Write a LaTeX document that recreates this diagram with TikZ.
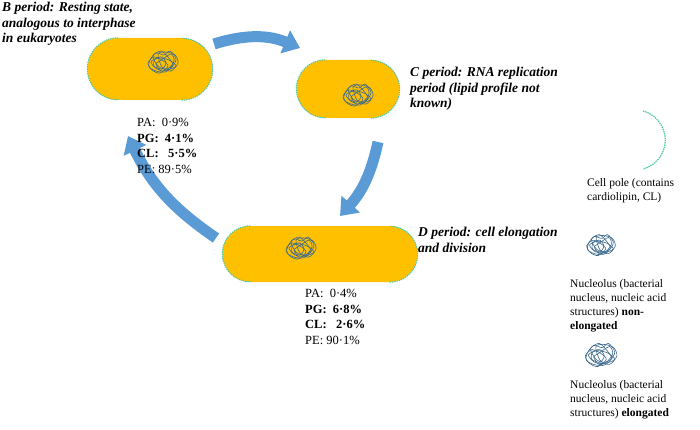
\documentclass[tikz,border=0pt]{standalone}
\usepackage{fontspec}
\setmainfont{Liberation Serif}
\usetikzlibrary{arrows.meta}
\definecolor{cellc}{HTML}{FFC000}
\definecolor{capc}{HTML}{4FC7A0}
\definecolor{arrc}{HTML}{5B9BD5}
\definecolor{nucc}{HTML}{3E6A8E}
\tikzset{
  cell/.style={fill=cellc, rounded corners=#1, inner sep=0pt},
  polecap/.style={draw=capc, line width=1pt, dash pattern=on 1.5pt off 0.8pt},
  blockarr/.style={draw=arrc, line width=11pt, -{Triangle[width=24pt,length=16pt]}},
  lab/.style={font=\bfseries\itshape\fontsize{13.5}{15.5}\selectfont, align=left, anchor=north west, inner sep=0pt},
  stat/.style={font=\fontsize{12.5}{15.5}\selectfont, align=left, anchor=north west, inner sep=0pt},
  leg/.style={font=\fontsize{11.5}{14}\selectfont, align=left, anchor=north west, inner sep=0pt},
}
\newcommand{\nucleoid}[2]{%
  \begin{scope}[shift={(#1)}, scale=#2, nucc, line width=0.6pt]
    \draw plot[smooth cycle] coordinates {(-12,-3) (-6,-10) (2,-8) (8,-12) (14,-4) (10,4) (3,9) (-6,8) (-13,4)};
    \draw plot[smooth cycle] coordinates {(-9,-7) (-1,-12) (6,-6) (11,2) (4,6) (-4,3)};
    \draw plot[smooth cycle] coordinates {(-14,0) (-8,-6) (0,-3) (6,3) (-2,10) (-10,7)};
    \draw plot[smooth cycle] coordinates {(-4,-9) (4,-11) (13,-8) (16,0) (9,8) (0,4)};
    \draw plot[smooth cycle] coordinates {(-11,-1) (-3,-5) (7,-3) (14,3) (5,7) (-5,6)};
    \draw plot[smooth cycle] coordinates {(-7,-4) (0,-6) (4,0) (0,6) (-8,3)};
    \draw plot[smooth cycle] coordinates {(-2,-2) (9,-9) (12,-2) (6,6) (-1,8) (-6,1)};
  \end{scope}}
\begin{document}
\begin{tikzpicture}[x=1pt,y=-1pt]
\useasboundingbox (0,0) rectangle (700,430);
% cells
\node[cell=31pt, minimum width=125pt, minimum height=62pt] (B) at (150,69) {};
\node[cell=29pt, minimum width=103pt, minimum height=58pt] (C) at (348,89) {};
\node[cell=28pt, minimum width=195pt, minimum height=56pt] (D) at (320,254) {};
% caps
\draw[polecap] ([xshift=31pt]B.north west) arc[start angle=90,end angle=270,radius=31pt];
\draw[polecap] ([xshift=-31pt]B.south east) arc[start angle=-90,end angle=90,radius=31pt];
\draw[polecap] ([xshift=29pt]C.north west) arc[start angle=90,end angle=270,radius=29pt];
\draw[polecap] ([xshift=-29pt]C.south east) arc[start angle=-90,end angle=90,radius=29pt];
\draw[polecap] ([xshift=28pt]D.north west) arc[start angle=90,end angle=270,radius=28pt];
\draw[polecap] ([xshift=-28pt]D.south east) arc[start angle=-90,end angle=90,radius=28pt];
% nucleoids
\nucleoid{162,63}{1}
\nucleoid{357,96}{1}
\nucleoid{300,249}{1}
% arrows
\coordinate (a1s) at (214,44); \coordinate (a1e) at (300,48);
\coordinate (a2s) at (378,142); \coordinate (a2e) at (340,216);
\coordinate (a3s) at (216,238); \coordinate (a3e) at (128,136);
\draw[blockarr] (a1s) to[bend left=20] (a1e);
\draw[blockarr] (a2s) to[bend left=15] (a2e);
\draw[blockarr] (a3s) to[bend left=15] (a3e);
% labels
\node[lab] (Bl) at (2,2) {B period: Resting state,\\analogous to interphase\\in eukaryotes};
\node[lab] (Cl) at (410,67) {C period: RNA replication\\period (lipid profile not\\known)};
\node[lab] (Dl) at (418,227) {D period: cell elongation\\and division};
\node[stat] (Bs) at (137,118) {PA:\ \ 0·9\%\\\textbf{PG:\ \ 4·1\%}\\\textbf{CL:\ \ \ 5·5\%}\\PE: 89·5\%};
\node[stat] (Ds) at (305,289) {PA:\ \ 0·4\%\\\textbf{PG:\ \ 6·8\%}\\\textbf{CL:\ \ \ 2·6\%}\\PE: 90·1\%};
% legend
\draw[polecap, line width=1.2pt] (643,111) arc[start angle=75,end angle=-75,radius=30pt];
\node[leg] (L1) at (587,178) {Cell pole (contains\\cardiolipin, CL)};
\nucleoid{600,246}{0.95}
\node[leg] (L2) at (570,279) {Nucleolus (bacterial\\nucleus, nucleic acid\\structures) \textbf{non-}\\\textbf{elongated}};
\nucleoid{600,356}{1.05}
\node[leg] (L3) at (570,380) {Nucleolus (bacterial\\nucleus, nucleic acid\\structures) \textbf{elongated}};
\end{tikzpicture}
\end{document}
